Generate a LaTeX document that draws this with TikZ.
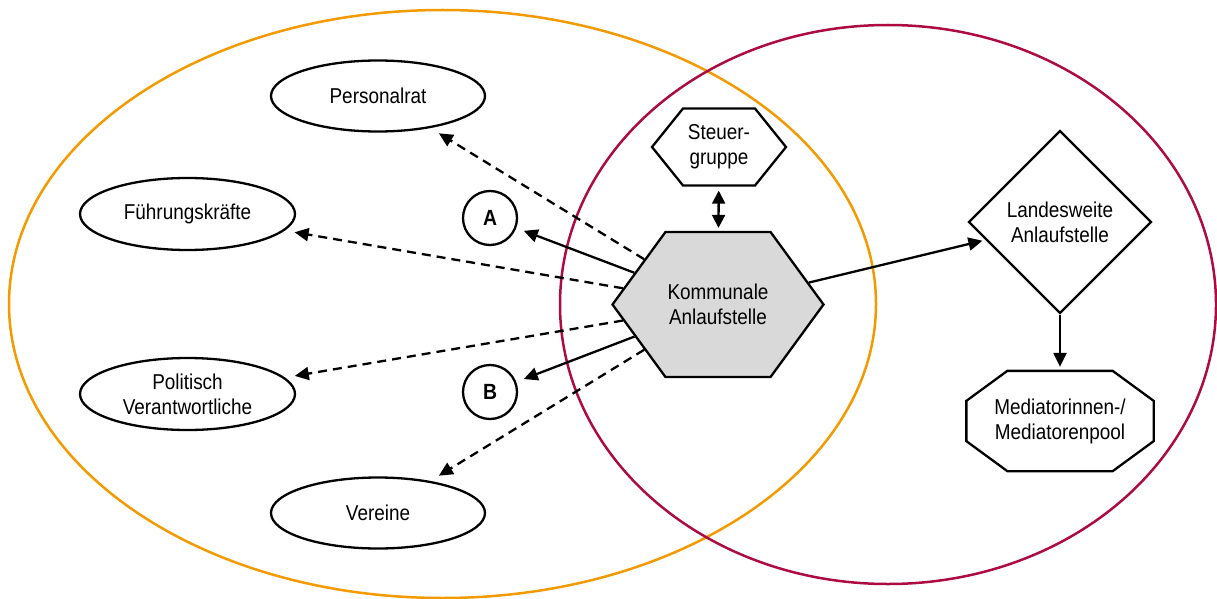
\documentclass[tikz,border=0pt]{standalone}
\usepackage{fontspec}
\setmainfont{Liberation Sans}[FakeStretch=0.88]
\usetikzlibrary{shapes.geometric,shapes.symbols,arrows.meta}
\definecolor{orangeC}{RGB}{242,154,0}
\definecolor{crimsonC}{RGB}{172,12,66}
\definecolor{grayfill}{RGB}{217,217,217}
\tikzset{
  base/.style={draw=black, line width=2.3pt, fill=white, align=center, inner sep=0pt,
    font=\fontsize{21.5pt}{25pt}\selectfont},
  oval/.style={base, ellipse, minimum width=214pt, minimum height=71pt},
  letter/.style={base, circle, minimum size=54pt, font=\fontsize{22pt}{25pt}\selectfont\bfseries},
  hexa/.style={base, signal, signal to=west and east},
  tip/.style={-{Triangle[length=14pt,width=13pt]}},
  conn/.style={tip, line width=2.3pt},
  dconn/.style={conn, dash pattern=on 9pt off 6pt},
}
\begin{document}
\begin{tikzpicture}[x=1pt,y=-1pt]
\useasboundingbox (0,0) rectangle (1217,599);
\draw[orangeC, line width=2.5pt] (442.5,304) ellipse [x radius=433.5, y radius=294];
\draw[crimsonC, line width=2.5pt] (888,304.5) ellipse [x radius=328, y radius=279.5];

\node[oval] (per) at (378,96) {Personalrat};
\node[oval, minimum width=215pt, minimum height=72pt] (fuh) at (187.5,214) {Führungskräfte};
\node[oval, minimum width=215pt, minimum height=72pt] (pol) at (187.5,394) {Politisch\\Verantwortliche};
\node[oval] (ver) at (378,513) {Vereine};
\node[letter] (A) at (490,218) {A};
\node[letter] (B) at (490,392) {B};

\node[hexa, minimum width=134pt, minimum height=77pt, signal pointer angle=102.3] (st) at (719,147) {Steuer-\\gruppe};
\node[hexa, fill=grayfill, minimum width=211pt, minimum height=145pt, signal pointer angle=107.7] (K) at (718,304.5) {Kommunale\\Anlaufstelle};
\node[base, diamond, shape aspect=1, minimum width=183pt, minimum height=183pt] (L) at (1060,222) {Landesweite\\Anlaufstelle};
\node[base, draw=none, fill=none, minimum width=185pt, minimum height=98pt] (M) at (1060,421) {Mediatorinnen-/\\Mediatorenpool};
\draw[line width=2.3pt, fill=white]
  ([xshift=41pt]M.north west) -- ([xshift=-41pt]M.north east)
  -- ([yshift=-30pt]M.north east) -- ([yshift=30pt]M.south east)
  -- ([xshift=-41pt]M.south east) -- ([xshift=41pt]M.south west)
  -- ([yshift=30pt]M.south west) -- ([yshift=-30pt]M.north west) -- cycle;
\node[base, draw=none, fill=none] at (M) {Mediatorinnen-/\\Mediatorenpool};

\draw[dconn, shorten >=10pt] (K) -- (per);
\draw[dconn, shorten >=10pt] (K) -- (fuh);
\draw[dconn, shorten >=10pt] (K) -- (pol);
\draw[dconn, shorten >=10pt] (K) -- (ver);
\draw[conn, shorten >=8pt] (K) -- (A);
\draw[conn, shorten >=8pt] (K) -- (B);
\draw[conn, shorten >=3pt] (K) -- (L);
\draw[conn, shorten >=4pt] (L) -- (M);
\draw[line width=2.3pt, {Triangle[length=13pt,width=13pt]}-{Triangle[length=13pt,width=13pt]}, shorten >=3pt, shorten <=4pt] (st) -- (K);
\end{tikzpicture}
\end{document}
